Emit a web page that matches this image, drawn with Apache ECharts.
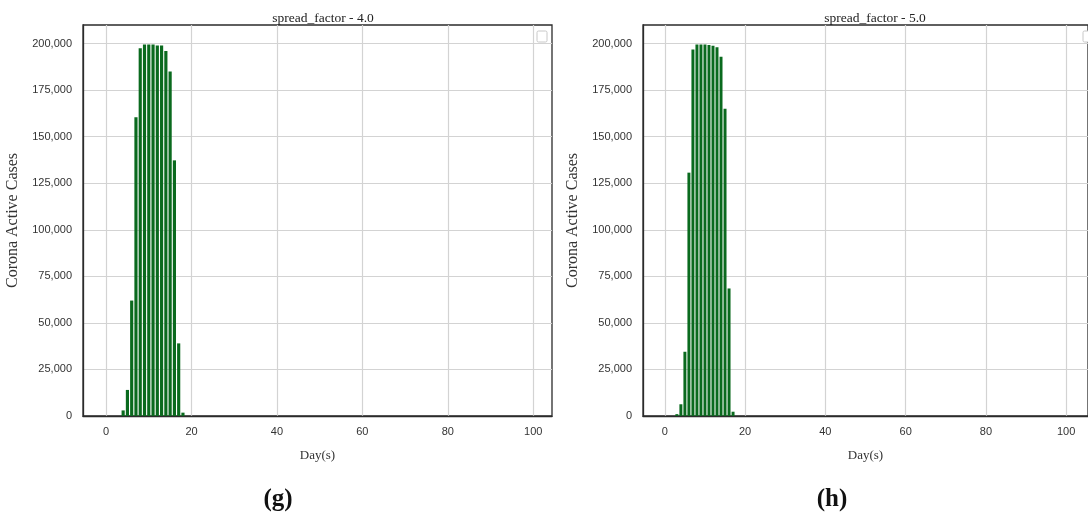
<!DOCTYPE html>
<html>
<head>
<meta charset="utf-8">
<script src="https://cdn.jsdelivr.net/npm/echarts@6/dist/echarts.min.js"></script>
<style>html,body{margin:0;padding:0;background:#fff;}#c{width:1088px;height:514px;}</style>
</head>
<body>
<div id="c"></div>
<script>
// Data
const daysG = [4,5,6,7,8,9,10,11,12,13,14,15,16,17,18];
const casesG = [3000,14000,62000,160500,197500,199500,199500,199500,199000,199000,196000,185000,137300,39000,1800];
const daysH = [3,4,5,6,7,8,9,10,11,12,13,14,15,16,17];
const casesH = [1000,6300,34500,130700,196800,199500,199500,199500,199300,198800,198000,193000,165000,68500,2300];
const titles = ['spread_factor - 4.0', 'spread_factor - 5.0'];
const captions = ['(g)', '(h)'];
const xTicks = [0,20,40,60,80,100];
const yTicks = [0,25000,50000,75000,100000,125000,150000,175000,200000];
const xName = 'Day(s)';
const yName = 'Corona Active Cases';

const BAR = '#0a6a1e';
const GRIDC = '#d3d3d3';
const FRAME = '#2b2b2b';
const sans = 'Liberation Sans';
const serif = 'Liberation Serif';

const grids = [
  {left: 83, top: 25, width: 469, height: 391, show: true, borderColor: FRAME, borderWidth: 1.3, backgroundColor: 'transparent'},
  {left: 643, top: 25, width: 459, height: 391, show: true, borderColor: FRAME, borderWidth: 1.3, backgroundColor: 'transparent'}
];
const xRanges = [[-5.4, 104.4], [-5.44, 105.44]];

function fmt(v){ return v.toLocaleString('en-US'); }

const xAxes = [0,1].map(i => ({
  type: 'value', gridIndex: i, min: xRanges[i][0], max: xRanges[i][1],
  name: xName, nameLocation: 'middle', nameGap: 33,
  nameTextStyle: {fontFamily: serif, fontSize: 13, color: '#333'},
  axisLine: {show: true, onZero: false, lineStyle: {color: FRAME, width: 1.3}},
  axisTick: {show: false, customValues: xTicks},
  axisLabel: {customValues: xTicks, fontFamily: sans, fontSize: 11, color: '#333', margin: 10},
  splitLine: {show: true, lineStyle: {color: GRIDC, width: 1.2}}
}));
const yAxes = [0,1].map(i => ({
  type: 'value', gridIndex: i, min: 0, max: 210000,
  name: yName, nameLocation: 'middle', nameGap: 62,
  nameTextStyle: {fontFamily: serif, fontSize: 16, color: '#333'},
  axisLine: {show: true, onZero: false, lineStyle: {color: FRAME, width: 1.3}},
  axisTick: {show: false, customValues: yTicks},
  axisLabel: {customValues: yTicks, fontFamily: sans, fontSize: 11, color: '#333', margin: 11, formatter: fmt},
  splitLine: {show: true, lineStyle: {color: GRIDC, width: 1.2}}
}));

const seriesData = [
  daysG.map((d, k) => [d, casesG[k]]),
  daysH.map((d, k) => [d, casesH[k]])
];

const chart = echarts.init(document.getElementById('c'), null, {renderer: 'canvas'});
chart.setOption({
  animation: false,
  backgroundColor: '#fff',
  title: [
    {text: titles[0], left: 318, top: 6, textAlign: 'center', textStyle: {fontFamily: serif, fontSize: 13.5, fontWeight: 'normal', color: '#222'}},
    {text: titles[1], left: 870, top: 6, textAlign: 'center', textStyle: {fontFamily: serif, fontSize: 13.5, fontWeight: 'normal', color: '#222'}},
    {text: captions[0], left: 273, top: 482, textAlign: 'center', textStyle: {fontFamily: serif, fontSize: 25, fontWeight: 'bold', color: '#111'}},
    {text: captions[1], left: 827, top: 482, textAlign: 'center', textStyle: {fontFamily: serif, fontSize: 25, fontWeight: 'bold', color: '#111'}}
  ],
  grid: grids,
  xAxis: xAxes,
  yAxis: yAxes,
  series: [0,1].map(i => ({
    type: 'bar', xAxisIndex: i, yAxisIndex: i,
    data: seriesData[i], barWidth: '74%',
    itemStyle: {color: BAR}
  })),
  graphic: [
    {type: 'rect', shape: {x: 537, y: 31, width: 10, height: 11, r: 1.5}, style: {fill: '#fff', stroke: '#c8c8c8', lineWidth: 1}, z: 100},
    {type: 'rect', shape: {x: 1083, y: 31, width: 10, height: 11, r: 1.5}, style: {fill: '#fff', stroke: '#c8c8c8', lineWidth: 1}, z: 100}
  ]
});
</script>
</body>
</html>
